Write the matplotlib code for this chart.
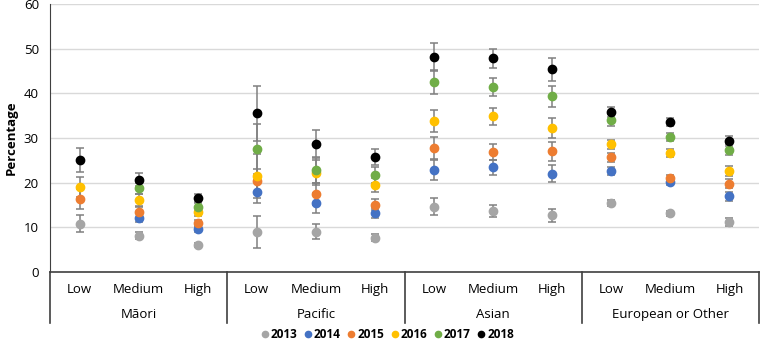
import numpy as np
import matplotlib.pyplot as plt
from matplotlib.lines import Line2D

nan = np.nan

# categorias
groups = ["Māori", "Pacific", "Asian", "European or Other"]
levels = ["Low", "Medium", "High"]
years = ["2013", "2014", "2015", "2016", "2017", "2018"]
colors = ["#A5A5A5", "#4472C4", "#ED7D31", "#FFC000", "#70AD47", "#000000"]

# valores (percentagem) e erros, por ano
v2013 = [10.8, 8.1, 6.1, 9.0, 9.0, 7.7, 14.6, 13.7, 12.7, 15.4, 13.1, 11.2]
e2013 = [1.9, 0.8, 0.5, 3.6, 1.7, 0.8, 1.9, 1.3, 1.4, 0.7, 0.6, 0.8]
v2014 = [nan, 12.2, 9.6, 18.0, 15.4, 13.3, 22.8, 23.4, 22.0, 22.6, 20.1, 17.0]
e2014 = [nan, 0.9, 0.6, 2.6, 2.3, 1.1, 2.2, 1.6, 1.9, 0.8, 0.6, 1.0]
v2015 = [16.3, 13.4, 10.9, 20.4, 17.5, 15.1, 27.7, 26.9, 27.0, 25.7, 21.0, 19.8]
e2015 = [2.3, 1.2, 0.8, 2.7, 2.4, 1.2, 2.5, 1.8, 2.2, 1.0, 0.7, 1.0]
v2016 = [19.1, 16.1, 13.5, 21.5, 22.2, 19.5, 33.8, 34.9, 32.2, 28.6, 26.6, 22.7]
e2016 = [2.2, 1.4, 0.9, 4.9, 2.8, 1.5, 2.5, 1.9, 2.3, 1.0, 0.9, 1.1]
v2017 = [nan, 18.7, 14.5, 27.6, 22.8, 21.8, 42.5, 41.4, 39.3, 34.0, 30.3, 27.4]
e2017 = [nan, 1.3, 0.9, 5.6, 2.8, 1.8, 2.7, 2.1, 2.4, 1.3, 0.9, 1.2]
v2018 = [25.1, 20.7, 16.6, 35.5, 28.7, 25.7, 48.1, 47.8, 45.4, 35.9, 33.6, 29.3]
e2018 = [2.7, 1.5, 0.9, 6.1, 3.0, 1.8, 3.1, 2.2, 2.6, 1.1, 0.9, 1.2]

values = [v2013, v2014, v2015, v2016, v2017, v2018]
errors = [e2013, e2014, e2015, e2016, e2017, e2018]

plt.rcParams["font.family"] = ["Open Sans", "DejaVu Sans"]

fig = plt.figure(figsize=(7.61, 3.41), dpi=100)
ax = fig.add_axes([50 / 761, 1 - 272 / 341, 709 / 761, 268 / 341])

x = np.arange(len(groups) * len(levels))
for yr, col, v, e in zip(years, colors, values, errors):
    ax.errorbar(x, v, yerr=e, fmt="o", color=col, markersize=6,
                ecolor="#808080", elinewidth=1.1, capsize=3, capthick=1.1,
                zorder=3)

ax.set_xlim(-0.5, len(x) - 0.5)
ax.set_ylim(0, 60)
ax.set_yticks(range(0, 61, 10))
ax.yaxis.grid(True, color="#D9D9D9", linewidth=1)
ax.set_axisbelow(True)
ax.tick_params(axis="y", length=0, labelsize=9.5, pad=8)
ax.set_xticks([])
for s in ["top", "right"]:
    ax.spines[s].set_visible(False)
ax.spines["left"].set_color("#404040")
ax.spines["bottom"].set_color("#404040")
ax.spines["bottom"].set_linewidth(1.2)
ax.set_ylabel("Percentage", fontsize=9.5, fontweight="bold", labelpad=4)

# eixo de categorias com dois niveis
tr = ax.get_xaxis_transform()
for b in range(len(groups) + 1):
    xb = b * 3 - 0.5
    ax.plot([xb, xb], [0, -0.19], color="#404040", lw=1.2,
            transform=tr, clip_on=False)
for i in x:
    ax.text(i, -0.067, levels[i % 3], transform=tr, ha="center",
            va="center", fontsize=9.5)
for g, name in enumerate(groups):
    ax.text(g * 3 + 1, -0.16, name, transform=tr, ha="center",
            va="center", fontsize=9.5)

handles = [Line2D([], [], ls="", marker="o", color=c, markersize=4.5)
           for c in colors]
fig.legend(handles, years, loc="center", bbox_to_anchor=(0.508, 1 - 335 / 341),
           ncol=6, frameon=False, handletextpad=0.05, columnspacing=0.45,
           prop={"weight": "bold", "size": 8.5}, handlelength=0.9,
           borderpad=0)

fig.savefig("out.png", dpi=100)
